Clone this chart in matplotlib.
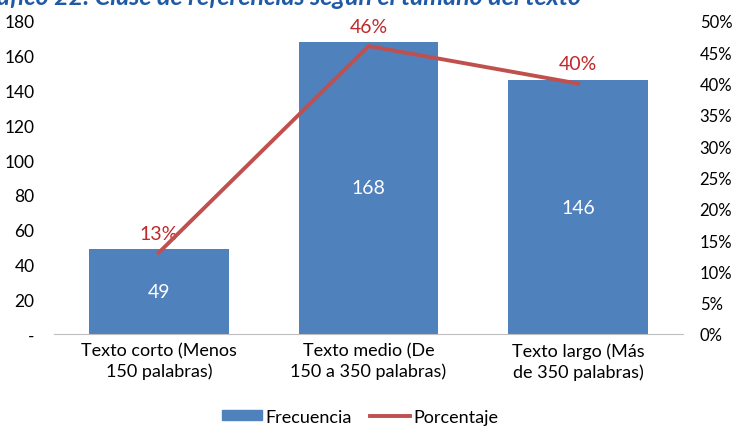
import matplotlib
matplotlib.use("Agg")
import matplotlib.pyplot as plt
from matplotlib.lines import Line2D
from matplotlib.patches import Patch

categories = ["Texto corto (Menos\n150 palabras)",
              "Texto medio (De\n150 a 350 palabras)",
              "Texto largo (Más\nde 350 palabras)"]
frecuencia = [49, 168, 146]
porcentaje = [0.13, 0.46, 0.40]
left_ticks = [0, 20, 40, 60, 80, 100, 120, 140, 160, 180]
right_ticks = [0.0, 0.05, 0.10, 0.15, 0.20, 0.25, 0.30, 0.35, 0.40, 0.45, 0.50]

BLUE = "#4F81BD"
RED = "#C0504D"
LABEL_RED = "#C0282B"

plt.rcParams["font.family"] = ["Lato", "DejaVu Sans"]

fig = plt.figure(figsize=(7.35, 4.27), dpi=100)
W, H = 735, 427
ax = fig.add_axes([54 / W, 1 - 335 / H, (683 - 54) / W, (335 - 22) / H])
ax2 = ax.twinx()

x = range(len(categories))
ax.bar(x, frecuencia, width=0.667, color=BLUE, zorder=2)
ax.set_xlim(-0.5, 2.5)
ax.set_ylim(0, 180)
ax.set_yticks(left_ticks)
ax.set_yticklabels(["-"] + [str(v) for v in left_ticks[1:]], fontsize=12.5)
ax.set_xticks(list(x))
ax.set_xticklabels(categories, fontsize=13, linespacing=1.3)
ax.tick_params(length=0, pad=14)
ax.tick_params(axis="x", pad=6)
for s in ["top", "left", "right"]:
    ax.spines[s].set_visible(False)
ax.spines["bottom"].set_color("#BFBFBF")

for xi, v in zip(x, frecuencia):
    ax.text(xi, v / 2, str(v), ha="center", va="center",
            color="white", fontsize=14, zorder=3)

ax2.plot(list(x), porcentaje, color=RED, lw=2.8, zorder=4)
ax2.set_ylim(0, 0.5)
ax2.set_yticks(right_ticks)
ax2.set_yticklabels([f"{round(v * 100)}%" for v in right_ticks], fontsize=12)
ax2.tick_params(length=0, pad=12)
for s in ["top", "left", "right", "bottom"]:
    ax2.spines[s].set_visible(False)

for xi, p in zip(x, porcentaje):
    ax2.annotate(f"{round(p * 100)}%", (xi, p), xytext=(0, 8),
                 textcoords="offset points", ha="center", va="bottom",
                 color=LABEL_RED, fontsize=14)

fig.text(-29 / W, 1 - 5 / H,
         "Gráfico 22. Clase de referencias según el tamaño del texto",
         ha="left", va="baseline", fontsize=18, fontweight="bold",
         fontstyle="italic", color="#1F5AA6")

handles = [Patch(color=BLUE, label="Frecuencia"),
           Line2D([0], [0], color=RED, lw=2.8, label="Porcentaje")]
fig.legend(handles=handles, loc="lower center", ncol=2, frameon=False,
           fontsize=13, bbox_to_anchor=(0.49, -0.035), handlelength=2.2,
           handleheight=0.45, handletextpad=0.2, columnspacing=1.0)

fig.savefig("out.png", dpi=100)
